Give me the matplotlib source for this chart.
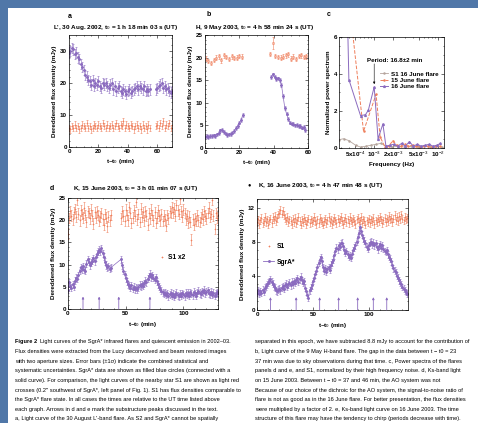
import numpy as np
import matplotlib
matplotlib.use('Agg')
import matplotlib.pyplot as plt
from matplotlib import font_manager
from matplotlib.patches import Rectangle
from matplotlib.ticker import AutoMinorLocator, FixedLocator, NullFormatter

names = {f.name for f in font_manager.fontManager.ttflist}
FONT = 'Liberation Sans Narrow' if 'Liberation Sans Narrow' in names else 'Liberation Sans'
plt.rcParams.update({'font.size': 4.5, 'font.family': [FONT, 'DejaVu Sans'],
                     'mathtext.fontset': 'custom', 'mathtext.rm': FONT,
                     'mathtext.it': FONT + ':italic', 'mathtext.bf': FONT + ':bold'})

PURPLE = '#8b6bbf'
RED = '#ef7f5c'
GRAY = '#b5a59d'
BLUE_BG = '#5077a8'
W, H = 478, 423

# ---- panel a: L', 30 Aug 2002 ----
a_sgra_start = [0, 59]
a_sgra = [[29.5, 30, 31, 30.5, 29, 29.5, 28, 27.5, 26, 25,
           24, 22.5, 22, 21, 20.5, 19.5, 21, 19, 20, 19.5,
           20.5, 19, 18.5, 20, 19.5, 20, 19, 18.5, 19.5, 20,
           18, 19, 17.5, 18.5, 19, 17.5, 17, 18, 17.5, 16.5,
           17.5, 18, 17, 17.5, 18, 18.5, 19, 18, 19, 18.5,
           18, 19, 17.5, 18, 17.5, 18],
          [18, 18.5, 19, 19.5, 20, 18.5, 19, 18, 18.5, 17.5, 17, 17.5]]
a_s1 = [[6, 5.5, 6.5, 6, 7, 6, 6.5, 5.5, 6, 7,
         6.5, 6, 7.5, 6, 6.5, 5.5, 6, 7, 6.5, 6,
         7, 6.5, 6, 7.5, 6.5, 6, 7, 6, 6.5, 7,
         6, 6.5, 7.5, 6.5, 6, 7, 6.5, 8, 6, 7,
         6.5, 6, 7, 6.5, 5.5, 6.5, 7, 6, 6.5, 5.5,
         7, 6, 6.5, 5.5, 7, 6],
        [6.5, 7, 6, 7.5, 6.5, 8, 6, 7, 6.5, 7.5, 6, 7]]
a_sgra_err = 1.6
a_s1_err = 1.0

# ---- panel b: H, 9 May 2003 ----
b_sgra_start = [0, 38.5]
b_sgra = [[2.5, 2.6, 2.5, 2.7, 2.6, 2.8, 2.7, 3.0, 3.3, 3.9,
           4.0, 3.5, 3.2, 2.9, 3.0, 3.1, 3.4, 3.8, 4.4, 4.9,
           5.6, 6.2, 7.3],
          [15.7, 16.3, 15.8, 15.3, 15.4, 15.0, 14.0, 11.5, 8.8, 7.6,
           6.4, 5.6, 5.4, 5.3, 5.0, 5.1, 4.8, 4.9, 4.5, 4.6, 4.0]]
b_s1_time = [0.5, 2, 3.5, 5, 6.5, 8, 9.5, 11, 12.5, 14, 15.5, 17, 18.5, 20, 21.5,
             38, 39.5, 41, 42.5, 44, 45.5, 47, 48.5, 50, 51.5, 53, 54.5, 56, 57.5, 59]
b_s1 = [19.8, 19.2, 18.8, 19.5, 20.0, 20.3, 19.4, 20.5, 20.1, 19.7, 20.3, 19.9, 20.0, 20.4, 20.2,
        20.8, 23.2, 20.4, 20.1, 20.0, 20.2, 20.5, 20.7, 19.8, 20.2, 19.7, 20.4, 20.5, 20.1, 20.3]
b_s1_err = [0.5] * 16 + [1.4] + [0.5] * 13
b_sgra_err = 0.4

# ---- panel c: power spectra ----
c_freq_sgra16 = [3.7e-4, 4.0e-4, 6.1e-4, 7.3e-4, 8.1e-4, 1.0e-3, 1.15e-3, 1.37e-3, 1.53e-3,
                 1.76e-3, 2.03e-3, 2.34e-3, 2.7e-3, 3.1e-3, 3.58e-3, 4.1e-3, 4.75e-3,
                 5.5e-3, 6.3e-3, 7.3e-3, 8.4e-3, 9.6e-3, 1.1e-2]
c_pow_sgra16 = [9.0, 3.7, 1.75, 1.8, 2.05, 3.3, 0.5, 1.3, 0.1,
                0.15, 0.2, 0.1, 0.25, 0.1, 0.35, 0.1, 0.2,
                0.1, 0.15, 0.2, 0.1, 0.15, 0.25]
c_freq_sgra15 = [3.6e-4, 6.8e-4, 1.07e-3, 1.24e-3, 1.48e-3, 1.7e-3, 1.96e-3, 2.26e-3, 2.6e-3,
                 3.0e-3, 3.45e-3, 4.0e-3, 4.6e-3, 5.3e-3, 6.1e-3, 7.0e-3, 8.1e-3, 9.3e-3, 1.07e-2]
c_pow_sgra15 = [9.5, 0.9, 2.9, 0.6, 0.05, 0.1, 0.4, 0.15, 0.1,
                0.2, 0.1, 0.15, 0.1, 0.05, 0.1, 0.1, 0.05, 0.1, 0.1]
c_freq_s1 = [2.8e-4, 3.3e-4, 4.0e-4, 5.1e-4, 6.1e-4, 7.5e-4, 9.0e-4, 1.07e-3, 1.28e-3, 1.53e-3,
             1.9e-3, 2.4e-3, 3.0e-3, 3.8e-3, 4.8e-3, 6.0e-3, 7.6e-3, 9.5e-3, 1.15e-2]
c_pow_s1 = [0.45, 0.5, 0.4, 0.15, 0.05, 0.1, 0.15, 0.2, 0.25, 0.1,
            0.05, 0.1, 0.05, 0.1, 0.05, 0.1, 0.05, 0.1, 0.05]
c_labels = ['S1 16 June flare', '15 June flare', '16 June flare']
c_ticks = [5e-4, 1e-3, 2e-3, 5e-3, 1e-2]
c_ticklabels = [r'5x10$^{-4}$', r'10$^{-3}$', r'2x10$^{-3}$', r'5x10$^{-3}$', r'10$^{-2}$']

# ---- panel d: K, 15 June 2003 ----
d_start = [0, 46]
d_sgra = [[4.3, 6.0, 5.2, 4.8, 5.6, 5.0, 6.4, 7.0, 6.8, 7.6,
           8.6, 9.4, 9.0, 9.6, 8.8, 8.6, 10.2, 11.2, 10.6, 9.8,
           10.4, 10.9, 11.4, 10.8, 11.6, 12.4, 12.9, 13.4, 13.0, 13.7,
           12.6, 11.8, 10.6, 9.9, 9.4, 9.6, 9.1, 9.3],
          [11.2, 9.8, 8.6, 7.8, 6.9, 6.2, 5.6, 5.2, 4.8, 5.3,
           4.6, 5.0, 4.4, 4.8, 4.5, 4.9, 5.4, 5.1, 5.6, 5.2,
           5.8, 6.3, 6.0, 6.8, 7.4, 7.9, 7.2, 7.6, 7.0, 6.6,
           7.1, 6.2, 5.6, 5.0, 4.6, 4.1, 3.8, 3.4, 3.7, 3.2,
           3.5, 2.9, 3.3, 3.6, 3.0, 3.4, 2.8, 3.2, 3.6, 3.1,
           2.9, 3.4, 3.0, 3.5, 3.3, 2.9, 3.7, 3.2, 3.6, 3.0,
           3.8, 3.4, 3.1, 3.9, 3.5, 3.0, 3.7, 4.1, 3.6, 3.3,
           4.0, 3.8, 4.3, 3.5, 3.9, 4.2, 3.6, 3.3, 3.9, 3.2,
           3.6, 3.0, 3.4, 3.8, 3.5]]
d_s1x2 = [[17.0, 20.5, 22.0, 21.0, 20.2, 21.8, 22.5, 20.8, 24.6, 21.5,
           20.0, 22.2, 21.4, 20.6, 22.8, 21.2, 19.6, 22.0, 21.6, 20.4,
           22.4, 21.0, 19.2, 21.8, 20.6, 22.0, 21.2, 19.8, 20.8, 21.6,
           20.2, 19.0, 21.4, 20.6, 18.6, 20.8, 20.0, 21.2],
          [20.4, 22.0, 21.0, 19.8, 22.4, 21.2, 20.0, 23.0, 21.6, 19.4,
           20.6, 22.2, 21.0, 24.2, 20.2, 21.4, 19.6, 22.6, 20.8, 21.8,
           20.0, 22.0, 21.0, 19.0, 21.6, 20.4, 22.4, 21.2, 20.0, 21.8,
           19.4, 20.6, 22.2, 21.0, 20.0, 21.4, 19.8, 21.0, 20.2, 18.8,
           21.2, 20.4, 22.0, 21.6, 23.0, 21.8, 22.6, 21.0, 23.4, 22.2,
           21.4, 24.8, 22.0, 20.8, 22.4, 21.6, 20.2, 21.0, 19.4, 20.8,
           19.6, 15.6, 20.2, 19.0, 20.4, 19.8, 21.2, 20.0, 19.6, 20.6,
           21.4, 20.2, 22.0, 21.0, 20.4, 21.6, 22.8, 20.8, 21.4, 24.6,
           21.0, 18.0, 21.6, 20.6, 21.2]]
d_arrows = [13, 27, 44, 71]
d_sgra_err = 0.8
d_s1_err = 1.2

# ---- panel e: K, 16 June 2003 ----
e_sgra = [2.0, 2.3, 1.9, 2.2, 2.0, 2.4, 2.1, 2.6, 2.8, 3.0,
          3.2, 3.4, 3.6, 3.3, 3.1, 2.8, 2.6, 2.3, 2.2, 2.4,
          2.5, 2.3, 2.6, 2.8, 2.5, 2.9, 3.1, 2.7, 3.0, 3.2,
          2.9, 3.3, 3.0, 3.4, 3.2, 3.5, 3.7, 3.3, 3.6, 3.9,
          3.5, 3.2, 3.4, 2.6, 2.2, 1.8, 1.4, 2.3, 2.6, 2.9,
          3.4, 3.8, 4.2, 4.6, 5.0, 5.5, 5.9, 6.2, 5.7, 5.0,
          4.6, 4.9, 4.5, 4.8, 5.0, 4.7, 5.3, 5.6, 5.9, 6.4,
          6.9, 7.3, 7.1, 7.6, 7.4, 7.8, 7.9, 7.5, 7.0, 6.7,
          6.9, 6.5, 6.2, 6.4, 6.1, 6.6, 7.0, 7.3, 7.6, 8.0,
          8.5, 9.0, 9.7, 9.3, 8.8, 8.4, 8.1, 7.8, 7.4, 7.2,
          7.6, 7.9, 8.0, 7.7, 7.9, 7.6, 7.8, 7.4, 7.1, 7.5,
          7.7, 7.3, 7.6, 7.2, 6.9, 6.8, 7.0, 6.5, 6.2, 6.0,
          5.7, 5.3, 4.9, 4.6, 4.4, 4.0, 3.8, 3.5, 3.2, 3.0,
          2.7, 2.5, 2.3, 2.1, 1.9]
e_s1 = [10.3, 10.6, 10.1, 10.5, 10.8, 10.2, 10.4, 10.9, 10.3, 10.6,
        10.0, 10.5, 10.7, 10.2, 10.9, 10.6, 11.0, 10.4, 10.8, 11.2,
        11.4, 11.7, 11.3, 11.6, 11.1, 10.8, 10.5, 10.9, 10.3, 10.6,
        10.4, 10.1, 10.7, 10.3, 10.8, 10.2, 10.5, 10.9, 10.4, 10.0,
        10.6, 10.3, 10.8, 10.5, 10.1, 10.4, 10.7, 10.2, 10.6, 10.3,
        10.5, 10.9, 10.4, 10.1, 10.6, 10.2, 10.8, 10.5, 10.3, 10.0,
        10.4, 10.7, 10.2, 10.5, 10.9, 10.3, 10.6, 10.1, 10.4, 10.8,
        10.5, 10.2, 10.7, 10.3, 10.6, 10.9, 10.4, 10.1, 10.5, 10.8,
        10.3, 10.6, 10.2, 10.9, 10.5, 10.3, 10.7, 10.4, 10.1, 10.6,
        10.8, 10.3, 10.5, 10.9, 10.2, 10.6, 10.4, 10.0, 10.5, 10.3,
        10.7, 10.2, 10.6, 10.4, 10.8, 10.1, 10.5, 10.3, 10.7, 10.4,
        10.9, 10.6, 10.2, 10.5, 10.8, 10.3, 10.7, 10.4, 11.0, 10.6,
        10.8, 10.3, 10.7, 11.1, 10.5, 10.9, 10.4, 11.0, 10.6, 11.2,
        10.7, 10.5, 10.9, 10.6, 10.8]
e_arrows = [12, 35, 56, 73, 90, 104, 116]
e_sgra_err = 0.4
e_s1_err = 0.45

YLABEL = 'Dereddened flux density (mJy)'
XLABEL = r't$-$t$_0$ (min)'

left_caption = [
    'Flux densities were extracted from the Lucy deconvolved and beam restored images',
    'with two aperture sizes. Error bars (\u00b11\u03c3) indicate the combined statistical and',
    'systematic uncertainties. SgrA* data are shown as filled blue circles (connected with a',
    'solid curve). For comparison, the light curves of the nearby star S1 are shown as light red',
    'crosses (0.2\'\' southwest of SgrA*, left panel of Fig. 1). S1 has flux densities comparable to',
    'the SgrA* flare state. In all cases the times are relative to the UT time listed above',
    'each graph. Arrows in d and e mark the substructure peaks discussed in the text.',
    'a, Light curve of the 30 August L\'-band flare. As S2 and SgrA* cannot be spatially',
]
right_caption = [
    'separated in this epoch, we have subtracted 8.8 mJy to account for the contribution of',
    'b, Light curve of the 9 May H-band flare. The gap in the data between t \u2212 t0 = 23',
    '37 min was due to sky observations during that time. c, Power spectra of the flares',
    'panels d and e, and S1, normalized by their high frequency noise. d, Ks-band light',
    'on 15 June 2003. Between t \u2212 t0 = 37 and 46 min, the AO system was not',
    'Because of our choice of the dichroic for the AO system, the signal-to-noise ratio of',
    'flare is not as good as in the 16 June flare. For better presentation, the flux densities',
    'were multiplied by a factor of 2. e, Ks-band light curve on 16 June 2003. The time',
    'structure of this flare may have the tendency to chirp (periods decrease with time).',
]


def box(l, t, r, b):
    return [l / W, 1 - b / H, (r - l) / W, (b - t) / H]


def style(ax, minor=True):
    if minor:
        ax.xaxis.set_minor_locator(AutoMinorLocator())
        ax.yaxis.set_minor_locator(AutoMinorLocator())
    ax.tick_params(which='both', direction='in', top=True, right=True, width=0.4,
                   labelsize=4.5, pad=1.5)
    ax.tick_params(which='major', length=2)
    ax.tick_params(which='minor', length=1)
    for s in ax.spines.values():
        s.set_linewidth(0.5)
    for lab in ax.get_xticklabels() + ax.get_yticklabels():
        lab.set_fontweight('bold')


def seg_times(start, vals, step=1.0):
    return start + step * np.arange(len(vals))


def sgra(ax, t, y, err, line=True):
    ax.errorbar(t, y, yerr=err, fmt='o-' if line else 'o', color=PURPLE, ms=1.1, lw=0.5,
                elinewidth=0.4, capsize=0.7, capthick=0.4)


def star(ax, t, y, err, marker='+', ms=2.0):
    ax.errorbar(t, y, yerr=err, fmt=marker, color=RED, ms=ms, mew=0.4, mfc='none',
                elinewidth=0.4, capsize=0.7, capthick=0.4)


def ftext(x, y, s, **kw):
    fig.text(x / W, 1 - y / H, s, va='center', **kw)


fig = plt.figure(figsize=(W / 100, H / 100), dpi=100, facecolor=BLUE_BG)
fig.add_artist(Rectangle((8 / W, 0), 1, 1 - 8 / H, transform=fig.transFigure,
                         facecolor='white', edgecolor='none', zorder=-5))

# a
ax = fig.add_axes(box(69, 35, 172, 147))
for st, vals in zip(a_sgra_start, a_sgra):
    sgra(ax, seg_times(st, vals), vals, a_sgra_err, line=False)
for st, vals in zip(a_sgra_start, a_s1):
    star(ax, seg_times(st, vals), vals, a_s1_err)
ax.set_xlim(0, 70)
ax.set_ylim(0, 35)
ax.set_xticks([0, 20, 40, 60])
ax.set_yticks([0, 10, 20, 30])
ax.set_xlabel(XLABEL, fontweight='bold', labelpad=2)
ax.set_ylabel(YLABEL, fontweight='bold', labelpad=2)
style(ax)

# b
ax = fig.add_axes(box(205, 35, 308, 148))
for st, vals in zip(b_sgra_start, b_sgra):
    sgra(ax, seg_times(st, vals), vals, b_sgra_err)
star(ax, b_s1_time, b_s1, b_s1_err, marker='s', ms=1.3)
ax.set_xlim(0, 60)
ax.set_ylim(0, 25)
ax.set_xticks([0, 20, 40, 60])
ax.set_yticks([0, 5, 10, 15, 20, 25])
ax.set_xlabel(XLABEL, fontweight='bold', labelpad=2)
ax.set_ylabel(YLABEL, fontweight='bold', labelpad=2)
style(ax)

# c
ax = fig.add_axes(box(339, 37, 444, 148))
ax.plot(c_freq_s1, c_pow_s1, '-o', color=GRAY, ms=0.8, lw=0.6, label=c_labels[0])
ax.plot(c_freq_sgra15, c_pow_sgra15, '--o', color=RED, ms=0.8, lw=0.7, label=c_labels[1])
ax.plot(c_freq_sgra16, c_pow_sgra16, '-^', color=PURPLE, ms=1.3, lw=0.7, label=c_labels[2])
ax.set_xscale('log')
ax.set_xlim(2.8e-4, 1.25e-2)
ax.set_ylim(0, 6)
ax.set_yticks([0, 2, 4, 6])
ax.yaxis.set_minor_locator(AutoMinorLocator())
ax.xaxis.set_major_locator(FixedLocator(c_ticks))
ax.set_xticklabels(c_ticklabels)
ax.xaxis.set_minor_formatter(NullFormatter())
ax.set_xlabel('Frequency (Hz)', fontweight='bold', labelpad=2)
ax.set_ylabel('Normalized power spectrum', fontweight='bold', labelpad=2)
ax.text(7.8e-4, 4.75, 'Period: 16.8\u00b12 min', fontsize=4.5, fontweight='bold', va='center')
ax.annotate('', xy=(1.0e-3, 3.45), xytext=(1.0e-3, 4.55),
            arrowprops=dict(arrowstyle='-|>', lw=0.4, color='black', mutation_scale=3,
                            shrinkA=0, shrinkB=0))
ax.legend(loc='upper left', bbox_to_anchor=(0.36, 0.72), frameon=False,
          handlelength=1.3, labelspacing=0.15, handletextpad=0.4, borderpad=0,
          prop={'weight': 'bold', 'size': 4.5})
style(ax, minor=False)

# d
ax = fig.add_axes(box(68, 198, 218, 309))
d_t = np.concatenate([seg_times(st, v) for st, v in zip(d_start, d_sgra)])
d_y = np.concatenate(d_sgra)
sgra(ax, d_t, d_y, d_sgra_err)
for st, vals in zip(d_start, d_s1x2):
    star(ax, seg_times(st, vals), vals, d_s1_err)
for t in d_arrows:
    ax.annotate('', xy=(t, 2.8), xytext=(t, 0),
                arrowprops=dict(arrowstyle='-|>', lw=0.6, color=PURPLE, mutation_scale=3,
                                shrinkA=0, shrinkB=0))
ax.plot([], [], '+', color=RED, ms=2, mew=0.5, label='S1 x2')
ax.legend(loc='center left', bbox_to_anchor=(0.58, 0.46), frameon=False,
          handlelength=1.0, handletextpad=0.4, borderpad=0,
          prop={'weight': 'bold', 'size': 4.8})
ax.set_xlim(0, 130)
ax.set_ylim(0, 25)
ax.set_xticks([0, 50, 100])
ax.set_yticks([0, 5, 10, 15, 20, 25])
ax.set_xlabel(XLABEL, fontweight='bold', labelpad=3)
ax.set_ylabel(YLABEL, fontweight='bold', labelpad=2)
style(ax)

# e
ax = fig.add_axes(box(257, 199, 408, 310))
e_t = seg_times(0, e_sgra)
sgra(ax, e_t, e_sgra, e_sgra_err)
star(ax, seg_times(0, e_s1), e_s1, e_s1_err)
for t in e_arrows:
    ax.annotate('', xy=(t, 1.5), xytext=(t, 0),
                arrowprops=dict(arrowstyle='-|>', lw=0.6, color=PURPLE, mutation_scale=3,
                                shrinkA=0, shrinkB=0))
ax.plot([], [], '+', color=RED, ms=2, mew=0.5, label='S1')
ax.plot([], [], '-o', color=PURPLE, ms=1.1, lw=0.6, label='SgrA*')
ax.legend(loc='center left', bbox_to_anchor=(0.02, 0.5), frameon=False,
          handlelength=1.6, labelspacing=1.2, handletextpad=0.4, borderpad=0,
          prop={'weight': 'bold', 'size': 4.8})
ax.set_xlim(0, 135)
ax.set_ylim(0, 13)
ax.set_xticks([0, 50, 100])
ax.set_yticks([0, 4, 8, 12])
ax.set_xlabel(XLABEL, fontweight='bold', labelpad=3)
ax.set_ylabel(YLABEL, fontweight='bold', labelpad=2)
style(ax)

# panel letters and headers
ftext(68, 16, 'a', fontweight='bold', fontsize=5)
ftext(53, 27, r"L', 30 Aug. 2002, t$_0$ = 1 h 18 min 03 s (UT)", fontweight='bold', fontsize=4.6)
ftext(207, 15, 'b', fontweight='bold', fontsize=5)
ftext(195, 27, r'H, 9 May 2003, t$_0$ = 4 h 58 min 24 s (UT)', fontweight='bold', fontsize=4.6)
ftext(327, 15, 'c', fontweight='bold', fontsize=5)
ftext(50, 188, 'd', fontweight='bold', fontsize=5)
ftext(73, 188, r'K, 15 June 2003, t$_0$ = 3 h 01 min 07 s (UT)', fontweight='bold', fontsize=4.6)
ftext(248, 185, '\u25cf', fontsize=4)
ftext(258, 185, r'K, 16 June 2003, t$_0$ = 4 h 47 min 48 s (UT)', fontweight='bold', fontsize=4.6)

# caption
cap_y0, cap_dy = 342, 9.6
ftext(15, cap_y0, 'Figure 2', fontweight='bold', fontsize=4.1)
ftext(40.5, cap_y0, 'Light curves of the SgrA* infrared flares and quiescent emission in 2002\u201303.',
      fontsize=4.1)
for i, line in enumerate(left_caption):
    ftext(15, cap_y0 + cap_dy * (i + 1), line, fontsize=4.1)
for i, line in enumerate(right_caption):
    ftext(255, cap_y0 + cap_dy * i, line, fontsize=4.1)

fig.savefig('out.png', dpi=100, facecolor=BLUE_BG)
